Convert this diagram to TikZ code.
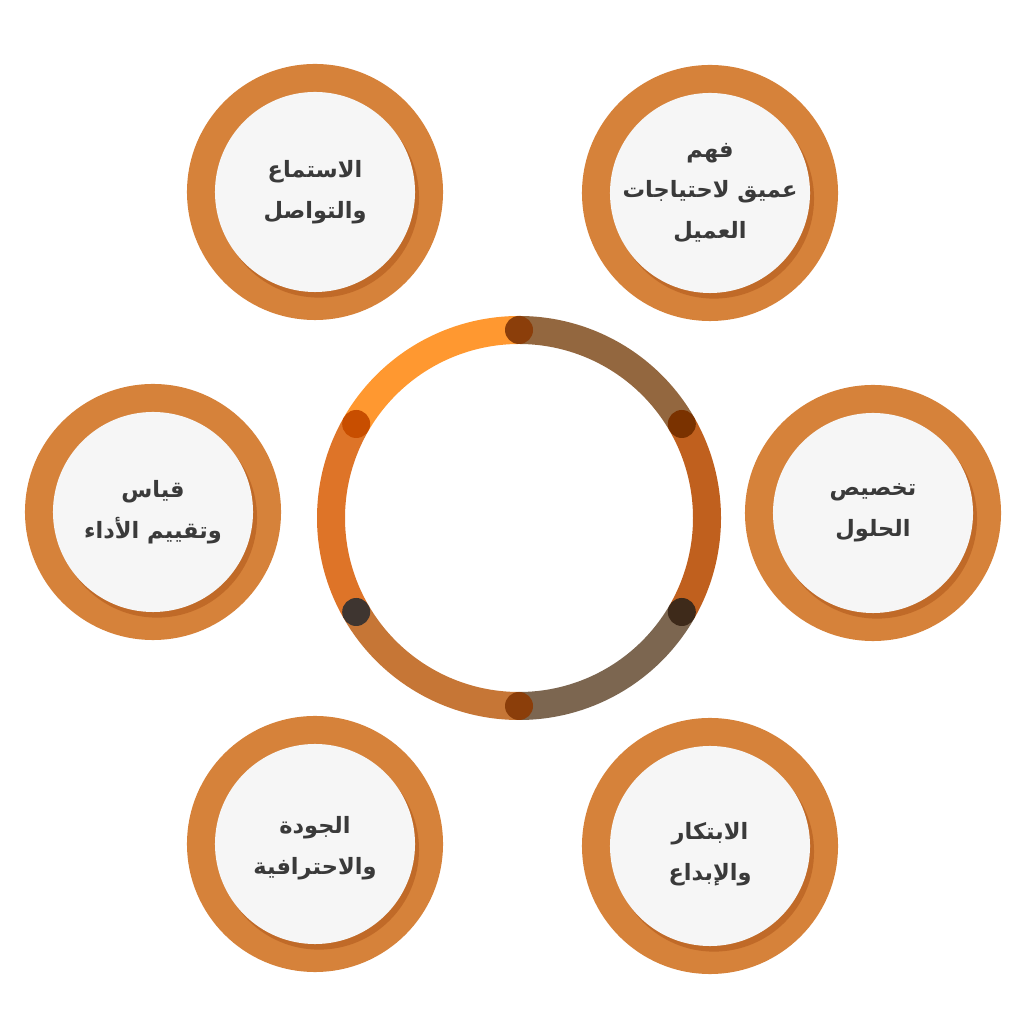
\documentclass[tikz,border=0pt]{standalone}
\usepackage{fontspec}
\newfontfamily\arabicfont[Script=Arabic]{DejaVu Sans}
\TeXXeTstate=1
\usetikzlibrary{shadows}
\definecolor{petalorange}{HTML}{D6823A}
\definecolor{petalshade}{HTML}{B25A1C}
\definecolor{face}{HTML}{F6F6F6}
\definecolor{ink}{HTML}{3A3A3A}
\definecolor{segA}{HTML}{93673F}
\definecolor{segB}{HTML}{C0601E}
\definecolor{segC}{HTML}{7C6650}
\definecolor{segD}{HTML}{C67636}
\definecolor{segE}{HTML}{DE7428}
\definecolor{segF}{HTML}{FF9830}
\definecolor{dotA}{HTML}{8B3E0A}
\definecolor{dotB}{HTML}{7A3200}
\definecolor{dotC}{HTML}{3E2A1A}
\definecolor{dotD}{HTML}{8B3E0A}
\definecolor{dotE}{HTML}{3E3530}
\definecolor{dotF}{HTML}{C84E00}
\tikzset{
  petal/.style={circle, minimum size=5cm, inner sep=0pt, fill=face,
    preaction={draw=petalorange, line width=1.4cm},
    drop shadow={shadow xshift=0.1cm, shadow yshift=-0.14cm,
      fill=petalshade, opacity=.6}},
  words/.style={font=\arabicfont\bfseries\fontsize{16}{29}\selectfont,
    text=ink, align=center},
  dot/.style={circle, minimum size=0.7cm, inner sep=0pt},
}
\begin{document}
\begin{tikzpicture}[x={(0.025cm,0)}, y={(0,0.025cm)}]
  \useasboundingbox (0,0) rectangle (1024,1024);
  \coordinate (hub) at (519,506) ;
  % ring
  \foreach \a/\b/\c in {90/30/segA, 30/-30/segB, -30/-90/segC,
      -90/-150/segD, -150/-210/segE, 150/90/segF}
    \draw[line width=0.7cm, \c] ([shift={(\a:188)}]hub)
      arc[start angle=\a, end angle=\b, radius=188];
  \foreach \a/\c/\n in {90/dotA/d1, 30/dotB/d2, -30/dotC/d3,
      -90/dotD/d4, -150/dotE/d5, 150/dotF/d6}
    \node[dot, fill=\c] (\n) at ([shift={(\a:188)}]hub) {};
  % circles
  \node[petal] (listen) at (315,832) {};
  \node[petal] (needs) at (710,831) {};
  \node[petal] (measure) at (153,512) {};
  \node[petal] (custom) at (873,511) {};
  \node[petal] (quality) at (315,180) {};
  \node[petal] (create) at (710,178) {};
  % texts
  \node[words] (listen-t) at (listen) {\beginR الاستماع\endR\\\beginR والتواصل\endR};
  \node[words] (needs-t) at (needs) {\beginR فهم\endR\\\beginR عميق لاحتياجات\endR\\\beginR العميل\endR};
  \node[words] (measure-t) at (measure) {\beginR قياس\endR\\\beginR وتقييم الأداء\endR};
  \node[words] (custom-t) at (custom) {\beginR تخصيص\endR\\\beginR الحلول\endR};
  \node[words] (quality-t) at ([yshift=-3]quality) {\beginR الجودة\endR\\\beginR والاحترافية\endR};
  \node[words] (create-t) at ([yshift=-6]create) {\beginR الابتكار\endR\\\beginR والإبداع\endR};
\end{tikzpicture}
\end{document}
